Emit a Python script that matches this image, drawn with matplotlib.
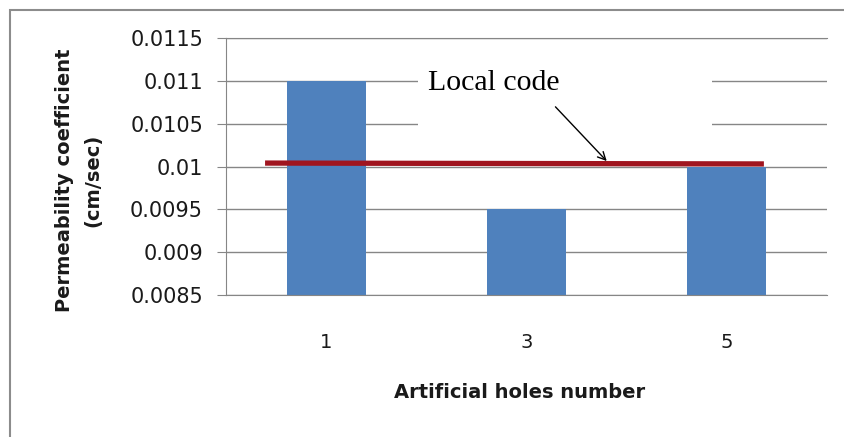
import numpy as np
import matplotlib
matplotlib.use("Agg")
import matplotlib.pyplot as plt
from matplotlib.patches import Rectangle

# data
holes = ["1", "3", "5"]
perm = [0.011, 0.0095, 0.01]
yticks = [0.0085, 0.009, 0.0095, 0.01, 0.0105, 0.011, 0.0115]
ytick_labels = ["0.0085", "0.009", "0.0095", "0.01", "0.0105", "0.011", "0.0115"]
code_x = [-0.305, 2.185]
code_y = [0.01004, 0.01003]

fig = plt.figure(figsize=(8.45, 4.37), dpi=100)
ax = fig.add_axes([226/845, 1-295/437, 601/845, 257/437])

x = np.arange(len(holes))
ax.bar(x, perm, width=0.395, color="#4F81BD", zorder=2)
ax.plot(code_x, code_y, color="#A0151F", lw=3.8, zorder=4, solid_capstyle="butt")

ax.set_xlim(-0.5, 2.5)
ax.set_ylim(0.0085, 0.0115)
ax.set_yticks(yticks)
ax.set_yticklabels(ytick_labels)
ax.set_xticks(x)
ax.set_xticklabels(holes)
ax.yaxis.grid(True, color="#868686", lw=1)
ax.set_axisbelow(True)

for s in ["left", "top", "bottom"]:
    ax.spines[s].set_color("#868686")
ax.spines["right"].set_visible(False)
ax.tick_params(axis="y", length=6.5, color="#868686", pad=10, labelsize=15,
               labelcolor="#1a1a1a")
ax.tick_params(axis="x", length=0, pad=27, labelsize=14, labelcolor="#1a1a1a")

# white box behind the label
ax.add_patch(Rectangle((0.46, 0.010195), 1.465, 0.00111, facecolor="white",
                       edgecolor="none", zorder=3))
ax.text(0.51, 0.01098, "Local code", family="Liberation Serif", fontsize=21.5,
        va="center", ha="left", zorder=5)
ax.annotate("", xy=(1.41, 0.01004), xytext=(1.135, 0.01072),
            arrowprops=dict(arrowstyle="->", color="black", lw=1, mutation_scale=14),
            zorder=5)

fig.text(520/845, 1-393/437, "Artificial holes number", fontsize=14,
         fontweight="bold", ha="center", va="center", color="#1a1a1a")
fig.text(79/845, 1-180/437, "Permeability coefficient\n(cm/sec)", fontsize=14,
         fontweight="bold", ha="center", va="center", rotation=90,
         multialignment="center", linespacing=1.6, color="#1a1a1a")

# outer chart border
fig.add_artist(Rectangle((10/845, -0.1), 1.2, 1.1 - 10/437, transform=fig.transFigure,
                         fill=False, edgecolor="#8C8C8C", lw=1.5))

fig.savefig("out.png", dpi=100)
